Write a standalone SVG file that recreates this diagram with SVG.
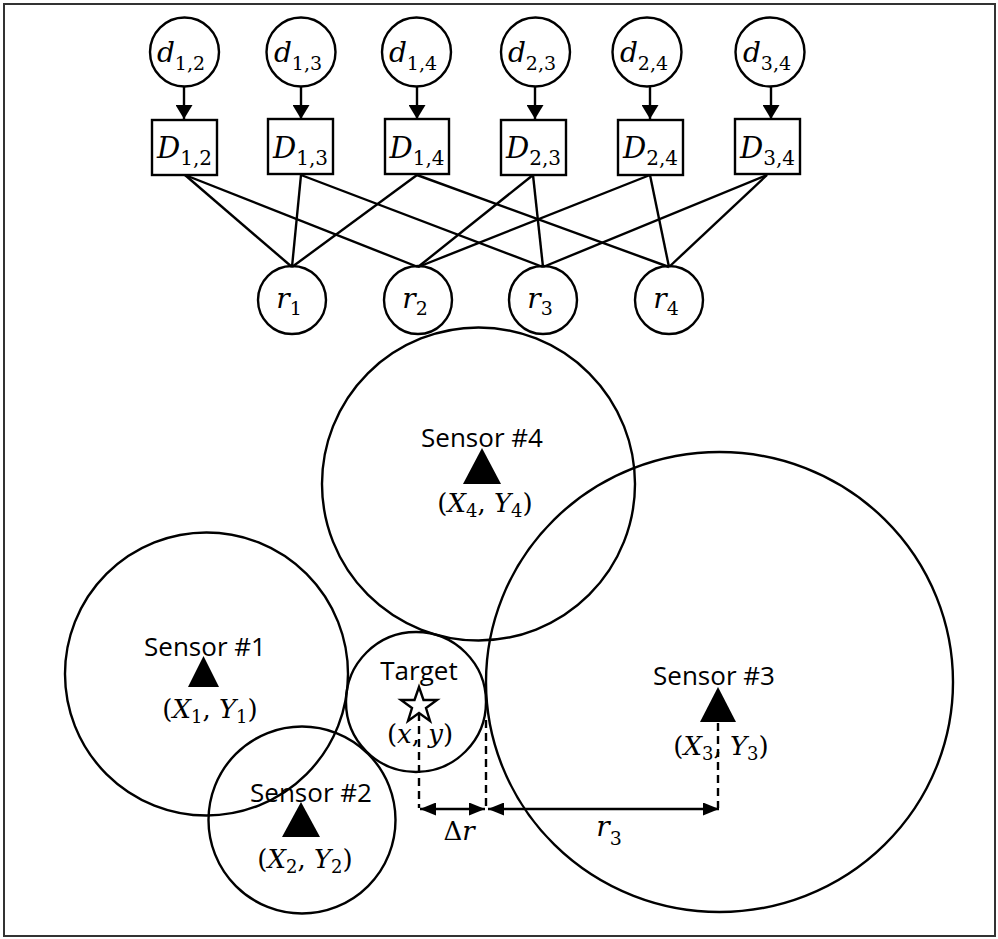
<svg xmlns="http://www.w3.org/2000/svg" width="998" height="939" viewBox="0 0 998 939">
<style>
.s{fill:none;stroke:#000;stroke-width:2.4}
.w{fill:#fff;stroke:#000;stroke-width:2.4}
.ln{stroke:#000;stroke-width:2.4;fill:none}
.ds{stroke:#000;stroke-width:2.4;fill:none;stroke-dasharray:8 5}
.m{font-family:"DejaVu Serif","Liberation Serif",serif;text-anchor:middle;fill:#000}
.it{font-style:italic}
.lbl{font-family:"Open Sans","Liberation Sans",sans-serif;font-size:26px;text-anchor:middle;fill:#000}
.tri{fill:#000}
</style>
<defs>
<marker id="ah" viewBox="0 0 14 17" markerWidth="14" markerHeight="17" refX="14" refY="8.5" markerUnits="userSpaceOnUse" orient="auto"><path d="M0,0 L14,8.5 L0,17 z" fill="#000"/></marker>
<marker id="dim" viewBox="0 0 16 13" markerWidth="16" markerHeight="13" refX="16" refY="6.5" markerUnits="userSpaceOnUse" orient="auto-start-reverse"><path d="M0,0 L16,6.5 L0,13 z" fill="#000"/></marker>
</defs>
<rect x="4" y="4" width="991" height="932" fill="#fff" stroke="#333" stroke-width="2"/>

<g id="connectors">
<line class="ln" x1="184" y1="86" x2="184" y2="119" marker-end="url(#ah)"/>
<line class="ln" x1="301" y1="86" x2="301" y2="119" marker-end="url(#ah)"/>
<line class="ln" x1="417" y1="86" x2="417" y2="119" marker-end="url(#ah)"/>
<line class="ln" x1="535" y1="86" x2="535" y2="119" marker-end="url(#ah)"/>
<line class="ln" x1="650" y1="86" x2="650" y2="119" marker-end="url(#ah)"/>
<line class="ln" x1="771" y1="86" x2="771" y2="119" marker-end="url(#ah)"/>
<line class="ln" x1="185" y1="175" x2="292" y2="267"/>
<line class="ln" x1="185" y1="175" x2="418" y2="267"/>
<line class="ln" x1="301" y1="175" x2="292" y2="267"/>
<line class="ln" x1="301" y1="175" x2="543" y2="267"/>
<line class="ln" x1="417" y1="175" x2="292" y2="267"/>
<line class="ln" x1="417" y1="175" x2="669" y2="267"/>
<line class="ln" x1="533" y1="175" x2="418" y2="267"/>
<line class="ln" x1="533" y1="175" x2="543" y2="267"/>
<line class="ln" x1="650" y1="175" x2="418" y2="267"/>
<line class="ln" x1="650" y1="175" x2="669" y2="267"/>
<line class="ln" x1="767" y1="175" x2="543" y2="267"/>
<line class="ln" x1="767" y1="175" x2="669" y2="267"/>
</g>

<g id="d12"><circle class="s" cx="184.5" cy="52" r="34.5"/><text class="m" x="181" y="62" font-size="28"><tspan class="it">d</tspan><tspan font-size="19" dy="8">1,2</tspan></text></g>
<g id="d13"><circle class="s" cx="301" cy="52" r="34.5"/><text class="m" x="298" y="62" font-size="28"><tspan class="it">d</tspan><tspan font-size="19" dy="8">1,3</tspan></text></g>
<g id="d14"><circle class="s" cx="416.5" cy="52" r="34.5"/><text class="m" x="413" y="62" font-size="28"><tspan class="it">d</tspan><tspan font-size="19" dy="8">1,4</tspan></text></g>
<g id="d23"><circle class="s" cx="535.5" cy="52" r="34.5"/><text class="m" x="532" y="62" font-size="28"><tspan class="it">d</tspan><tspan font-size="19" dy="8">2,3</tspan></text></g>
<g id="d24"><circle class="s" cx="647" cy="52" r="34.5"/><text class="m" x="644" y="62" font-size="28"><tspan class="it">d</tspan><tspan font-size="19" dy="8">2,4</tspan></text></g>
<g id="d34"><circle class="s" cx="770" cy="52" r="34.5"/><text class="m" x="767" y="62" font-size="28"><tspan class="it">d</tspan><tspan font-size="19" dy="8">3,4</tspan></text></g>

<g id="D12"><rect class="w" x="152" y="120" width="65" height="55"/><text class="m" x="184.5" y="158" font-size="29"><tspan class="it">D</tspan><tspan font-size="20" dy="7">1,2</tspan></text></g>
<g id="D13"><rect class="w" x="268" y="119" width="65" height="55"/><text class="m" x="300.5" y="158" font-size="29"><tspan class="it">D</tspan><tspan font-size="20" dy="7">1,3</tspan></text></g>
<g id="D14"><rect class="w" x="385" y="119" width="64" height="55"/><text class="m" x="417" y="158" font-size="29"><tspan class="it">D</tspan><tspan font-size="20" dy="7">1,4</tspan></text></g>
<g id="D23"><rect class="w" x="501" y="120" width="65" height="55"/><text class="m" x="533.5" y="158" font-size="29"><tspan class="it">D</tspan><tspan font-size="20" dy="7">2,3</tspan></text></g>
<g id="D24"><rect class="w" x="618" y="120" width="65" height="55"/><text class="m" x="650.5" y="158" font-size="29"><tspan class="it">D</tspan><tspan font-size="20" dy="7">2,4</tspan></text></g>
<g id="D34"><rect class="w" x="735" y="119" width="65" height="55"/><text class="m" x="767.5" y="158" font-size="29"><tspan class="it">D</tspan><tspan font-size="20" dy="7">3,4</tspan></text></g>

<g id="r1"><circle class="s" cx="292" cy="300" r="34"/><text class="m" x="289" y="308" font-size="28"><tspan class="it">r</tspan><tspan font-size="19" dy="7">1</tspan></text></g>
<g id="r2"><circle class="s" cx="418" cy="300" r="34"/><text class="m" x="415" y="308" font-size="28"><tspan class="it">r</tspan><tspan font-size="19" dy="7">2</tspan></text></g>
<g id="r3"><circle class="s" cx="543" cy="300" r="34"/><text class="m" x="540" y="308" font-size="28"><tspan class="it">r</tspan><tspan font-size="19" dy="7">3</tspan></text></g>
<g id="r4"><circle class="s" cx="669" cy="300" r="34"/><text class="m" x="666" y="308" font-size="28"><tspan class="it">r</tspan><tspan font-size="19" dy="7">4</tspan></text></g>

<g id="sensor4">
<circle class="s" cx="478.5" cy="484" r="156.5"/>
<text class="lbl" x="482" y="447">Sensor #4</text>
<polygon class="tri" points="482,448 463,484 501,484"/>
<text class="m" x="485" y="512" font-size="26">(<tspan class="it">X</tspan><tspan font-size="18" dy="5">4</tspan><tspan dy="-5">, </tspan><tspan class="it">Y</tspan><tspan font-size="18" dy="5">4</tspan><tspan dy="-5">)</tspan></text>
</g>

<g id="sensor3">
<ellipse class="s" cx="719.5" cy="682" rx="233.5" ry="230"/>
<text class="lbl" x="714" y="685">Sensor #3</text>
<polygon class="tri" points="718,687 700,722 736,722"/>
<text class="m" x="721" y="755" font-size="26">(<tspan class="it">X</tspan><tspan font-size="18" dy="5">3</tspan><tspan dy="-5">, </tspan><tspan class="it">Y</tspan><tspan font-size="18" dy="5">3</tspan><tspan dy="-5">)</tspan></text>
</g>

<g id="sensor1">
<circle class="s" cx="206.5" cy="674" r="141.5"/>
<text class="lbl" x="205" y="656">Sensor #1</text>
<polygon class="tri" points="203.5,656 188,687 219,687"/>
<text class="m" x="210" y="718" font-size="26">(<tspan class="it">X</tspan><tspan font-size="18" dy="5">1</tspan><tspan dy="-5">, </tspan><tspan class="it">Y</tspan><tspan font-size="18" dy="5">1</tspan><tspan dy="-5">)</tspan></text>
</g>

<g id="sensor2">
<circle class="s" cx="302" cy="820" r="93.5"/>
<text class="lbl" x="311" y="802">Sensor #2</text>
<polygon class="tri" points="301,802 282,837 320,837"/>
<text class="m" x="305" y="868" font-size="26">(<tspan class="it">X</tspan><tspan font-size="18" dy="5">2</tspan><tspan dy="-5">, </tspan><tspan class="it">Y</tspan><tspan font-size="18" dy="5">2</tspan><tspan dy="-5">)</tspan></text>
</g>

<g id="target">
<circle class="s" cx="416" cy="702" r="70"/>
<text class="lbl" x="419" y="680">Target</text>
<polygon class="w" points="419,687 423.5,700 437,700 426,708 430,721 419,713 408,721 412,708 401,700 414.5,700"/>
<text class="m" x="420" y="743" font-size="26">(<tspan class="it">x</tspan>, <tspan class="it">y</tspan>)</text>
</g>

<g id="dimensions">
<line class="ds" x1="419" y1="713" x2="419" y2="808"/>
<line class="ds" x1="486" y1="720" x2="486" y2="808"/>
<line class="ds" x1="718" y1="723" x2="718" y2="808"/>
<line class="ln" x1="420" y1="809" x2="485" y2="809" marker-start="url(#dim)" marker-end="url(#dim)"/>
<line class="ln" x1="488" y1="809" x2="719" y2="809" marker-start="url(#dim)" marker-end="url(#dim)"/>
<text class="m" x="459" y="840" font-size="26">Δ<tspan class="it">r</tspan></text>
<text class="m" x="609" y="836" font-size="28"><tspan class="it">r</tspan><tspan font-size="19" dy="9">3</tspan></text>
</g>
</svg>
